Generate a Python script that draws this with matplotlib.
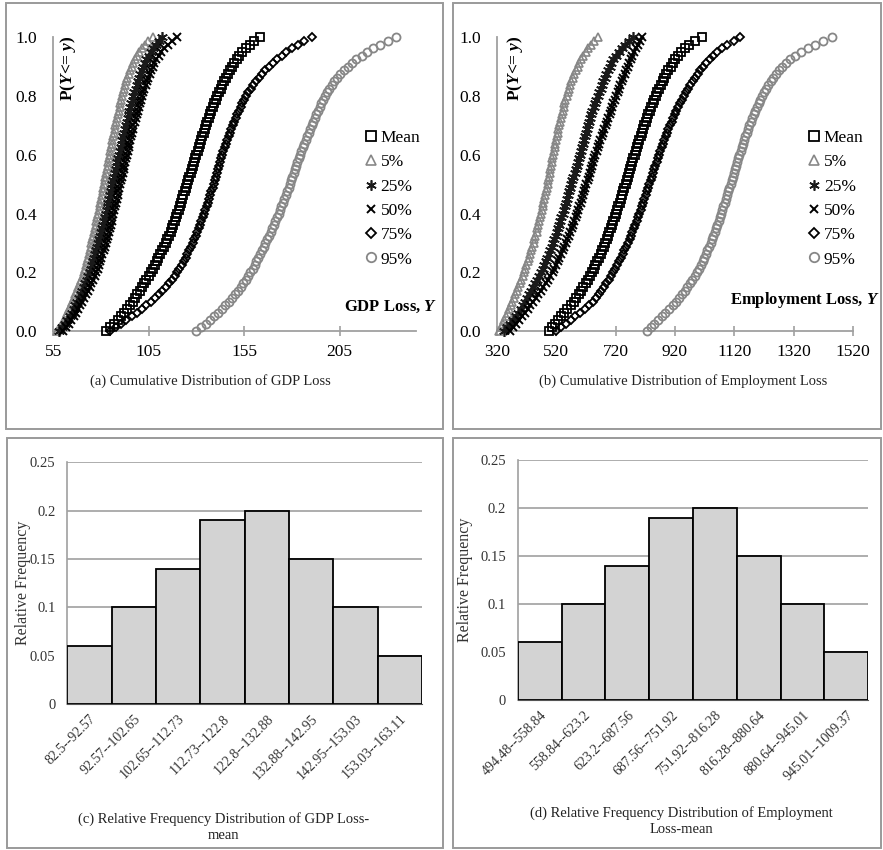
import matplotlib
matplotlib.use("Agg")
import matplotlib.pyplot as plt
from matplotlib.patches import Rectangle
from matplotlib.lines import Line2D
from matplotlib.ticker import FormatStrFormatter

plt.rcParams['font.family'] = ['Liberation Serif', 'DejaVu Serif']
plt.rcParams['mathtext.fontset'] = 'custom'
plt.rcParams['mathtext.rm'] = 'Liberation Serif:bold'
plt.rcParams['mathtext.it'] = 'Liberation Serif:italic:bold'

# cumulative probability levels shared by every CDF series
P_LEVELS = [0.0, 0.0125, 0.025, 0.0375, 0.05, 0.0625, 0.075, 0.0875, 0.1, 0.1125,
            0.125, 0.1375, 0.15, 0.1625, 0.175, 0.1875, 0.2, 0.2125, 0.225, 0.2375,
            0.25, 0.2625, 0.275, 0.2875, 0.3, 0.3125, 0.325, 0.3375, 0.35, 0.3625,
            0.375, 0.3875, 0.4, 0.4125, 0.425, 0.4375, 0.45, 0.4625, 0.475, 0.4875,
            0.5, 0.5125, 0.525, 0.5375, 0.55, 0.5625, 0.575, 0.5875, 0.6, 0.6125,
            0.625, 0.6375, 0.65, 0.6625, 0.675, 0.6875, 0.7, 0.7125, 0.725, 0.7375,
            0.75, 0.7625, 0.775, 0.7875, 0.8, 0.8125, 0.825, 0.8375, 0.85, 0.8625,
            0.875, 0.8875, 0.9, 0.9125, 0.925, 0.9375, 0.95, 0.9625, 0.975, 0.9875, 1.0]

# GDP loss at each probability level
gdp_mean = [82.5, 84.7, 86.8, 88.7, 90.5, 92.1, 93.6, 95.1, 96.5, 97.8,
            99.0, 100.3, 101.5, 102.7, 103.8, 104.9, 106.0, 107.1, 108.1, 109.1,
            110.1, 111.1, 112.1, 113.1, 114.0, 114.8, 115.6, 116.4, 117.1, 117.9,
            118.6, 119.3, 120.0, 120.7, 121.3, 122.0, 122.6, 123.2, 123.8, 124.4,
            125.0, 125.7, 126.3, 126.9, 127.5, 128.2, 128.8, 129.4, 130.0, 130.6,
            131.2, 131.9, 132.5, 133.1, 133.7, 134.4, 135.0, 135.7, 136.4, 137.1,
            137.8, 138.6, 139.4, 140.2, 141.0, 141.8, 142.7, 143.6, 144.5, 145.4,
            146.4, 147.4, 148.5, 149.7, 151.0, 152.4, 154.0, 155.8, 157.8, 160.2, 163.1]
gdp_p5 = [57.0, 58.3, 59.5, 60.5, 61.5, 62.4, 63.3, 64.2, 65.0, 65.8,
          66.6, 67.3, 68.0, 68.8, 69.5, 70.3, 71.0, 71.5, 72.0, 72.5,
          73.0, 73.5, 74.0, 74.5, 75.0, 75.5, 75.9, 76.4, 76.8, 77.2,
          77.6, 78.1, 78.5, 78.9, 79.3, 79.7, 80.0, 80.4, 80.8, 81.2,
          81.5, 81.9, 82.3, 82.7, 83.0, 83.4, 83.8, 84.2, 84.5, 84.9,
          85.2, 85.6, 86.0, 86.4, 86.7, 87.1, 87.5, 87.9, 88.3, 88.8,
          89.2, 89.7, 90.1, 90.6, 91.0, 91.5, 92.1, 92.6, 93.2, 93.8,
          94.5, 95.2, 96.0, 96.9, 97.8, 98.8, 100.0, 101.4, 103.0, 104.8, 107.0]
gdp_p25 = [58.0, 59.6, 61.0, 62.3, 63.5, 64.6, 65.6, 66.6, 67.5, 68.4,
           69.3, 70.2, 71.0, 71.8, 72.6, 73.3, 74.0, 74.6, 75.2, 75.8,
           76.4, 77.0, 77.5, 78.0, 78.5, 79.0, 79.5, 80.0, 80.5, 81.0,
           81.5, 82.0, 82.5, 83.0, 83.4, 83.9, 84.3, 84.8, 85.2, 85.6,
           86.0, 86.5, 86.9, 87.4, 87.8, 88.2, 88.6, 89.1, 89.5, 90.0,
           90.4, 90.8, 91.2, 91.7, 92.1, 92.6, 93.0, 93.5, 93.9, 94.4,
           94.9, 95.4, 95.9, 96.5, 97.0, 97.5, 98.1, 98.7, 99.3, 99.9,
           100.6, 101.3, 102.0, 102.9, 103.8, 104.9, 106.0, 107.2, 108.6, 110.2, 112.0]
gdp_p50 = [60.0, 61.6, 63.0, 64.5, 65.8, 66.9, 68.0, 69.0, 70.0, 71.0,
           72.0, 73.0, 74.0, 74.9, 75.8, 76.7, 77.5, 78.2, 78.8, 79.5,
           80.1, 80.7, 81.3, 81.9, 82.5, 83.0, 83.5, 84.0, 84.5, 85.0,
           85.5, 86.0, 86.5, 87.0, 87.4, 87.9, 88.3, 88.7, 89.1, 89.6,
           90.0, 90.5, 90.9, 91.4, 91.8, 92.2, 92.6, 93.1, 93.5, 94.0,
           94.4, 94.8, 95.2, 95.7, 96.1, 96.6, 97.0, 97.6, 98.1, 98.7,
           99.2, 99.8, 100.3, 100.9, 101.5, 102.1, 102.7, 103.4, 104.0, 104.7,
           105.4, 106.2, 107.0, 108.0, 109.0, 110.2, 111.5, 113.1, 115.0, 117.3, 120.0]
gdp_p75 = [84.5, 87.6, 90.5, 93.3, 96.0, 98.7, 101.3, 103.7, 106.0, 108.2,
           110.2, 112.2, 114.0, 115.7, 117.2, 118.7, 120.0, 121.1, 122.2, 123.3,
           124.3, 125.3, 126.2, 127.1, 128.0, 128.8, 129.6, 130.4, 131.2, 131.9,
           132.6, 133.3, 134.0, 134.7, 135.3, 135.9, 136.5, 137.2, 137.8, 138.4,
           139.0, 139.6, 140.1, 140.7, 141.2, 141.8, 142.3, 142.9, 143.5, 144.1,
           144.8, 145.5, 146.2, 146.9, 147.6, 148.3, 149.0, 149.8, 150.6, 151.4,
           152.3, 153.2, 154.1, 155.0, 156.0, 157.2, 158.4, 159.7, 161.0, 162.5,
           164.2, 166.0, 168.0, 170.1, 172.3, 174.6, 177.0, 179.9, 183.0, 186.5, 190.3]
gdp_p95 = [129.7, 132.3, 134.8, 137.1, 139.3, 141.3, 143.3, 145.2, 147.0, 148.6,
           150.2, 151.7, 153.2, 154.5, 155.8, 157.1, 158.3, 159.4, 160.4, 161.4,
           162.3, 163.3, 164.2, 165.2, 166.1, 167.0, 167.9, 168.8, 169.6, 170.5,
           171.3, 172.2, 173.0, 173.8, 174.5, 175.3, 176.0, 176.8, 177.5, 178.3,
           179.0, 179.7, 180.3, 181.0, 181.6, 182.3, 182.9, 183.6, 184.2, 185.0,
           185.7, 186.5, 187.2, 188.0, 188.7, 189.5, 190.3, 191.1, 191.9, 192.8,
           193.6, 194.5, 195.3, 196.2, 197.2, 198.3, 199.5, 200.8, 202.2, 203.7,
           205.4, 207.3, 209.3, 211.5, 213.8, 216.5, 219.5, 222.7, 226.2, 230.1, 234.4]

# employment loss at each probability level
emp_mean = [494.5, 506, 516, 526, 535, 546.5, 558, 569, 580, 588,
            596, 604, 612, 619.5, 626.5, 633, 640, 646, 652, 658,
            664, 669.5, 675, 680.5, 686, 690.5, 695, 699.5, 704, 708,
            712.5, 717, 721, 725, 729.5, 734, 738, 742, 746, 750,
            754, 758, 761.5, 765, 769, 773, 776.5, 780, 784, 788,
            792, 796, 800, 804, 808, 812, 816, 821, 825.5, 830,
            835, 840, 845, 850, 855, 861, 866.5, 872, 878, 884.5,
            891, 898, 905, 913, 921, 930, 940, 953, 968, 986, 1009.4]
emp_p5 = [328, 334, 340, 345.5, 351, 356.5, 362, 367, 372, 377,
          382, 387, 392, 397, 402, 407, 412, 416, 420, 424,
          428, 432, 436, 440, 444, 447, 450.5, 454, 457, 460,
          463, 466, 469, 472, 474.5, 477, 480, 483, 485.5, 488,
          491, 493.5, 496, 498, 500.5, 503, 505, 507.5, 510, 512.5,
          515, 517.5, 520, 522.5, 525, 527.5, 530, 533, 535.5, 538.5,
          541.5, 545, 548, 551.5, 555, 559, 563, 567, 571.5, 576,
          581, 586, 592, 598, 605, 612, 620, 628.5, 638, 649, 662]
emp_p25 = [345, 356, 366, 376, 385, 393, 401, 408, 415, 422,
           429, 436, 443, 450, 457, 463.5, 470, 475, 480, 485,
           490, 495, 500, 505, 510, 514, 518, 522, 526, 530,
           534, 538, 542, 545.5, 549, 552.5, 556, 560, 564, 567.5,
           571, 574.5, 578, 582, 586, 589.5, 593, 596.5, 600, 603,
           606.5, 610, 613, 616, 619.5, 623, 626, 630, 634, 638,
           642, 646.5, 651, 655.5, 660, 665, 669.5, 674, 679, 684,
           689, 694.5, 700, 706, 713, 721, 730, 740.5, 752, 765, 780]
emp_p50 = [365, 376, 386, 396, 405, 414.5, 424, 433.5, 443, 451.5,
           460, 468.5, 477, 485, 493, 500.5, 508, 514, 520, 525.5,
           531, 536.5, 542, 547.5, 553, 558, 562.5, 567, 572, 576.5,
           581, 585.5, 590, 594, 598, 602, 606, 610, 614, 618,
           622, 626, 629.5, 633, 637, 641, 644.5, 648, 652, 656,
           660.5, 665, 669, 673.5, 678, 682.5, 687, 691, 695.5, 700,
           704, 708.5, 713, 717.5, 722, 727, 731.5, 736, 741, 746,
           751, 756, 761, 766, 771, 776.5, 782, 788, 794, 801, 808]
emp_p75 = [520, 537, 553, 569, 585, 601, 616, 631, 645, 654,
           663, 672, 681, 689, 697, 704.5, 712, 718.5, 725, 731,
           737.5, 744, 750, 756, 762, 767, 771.5, 776, 781, 786,
           790.5, 795, 800, 804, 808.5, 813, 817, 821, 825.5, 830,
           834, 838, 842, 846, 850, 854, 858, 862, 866, 870.5,
           875, 879.5, 884, 889, 893.5, 898, 903, 908.5, 914, 919.5,
           925, 931, 937, 943.5, 950, 957, 964, 971.5, 979, 987.5,
           996, 1005, 1015, 1026, 1037, 1049.5, 1063, 1078.5, 1096, 1117, 1140]
emp_p95 = [826, 838.5, 851, 863, 875, 887.5, 900, 912.5, 925, 934,
           943, 952, 961, 969.5, 978, 986.5, 995, 1001, 1007, 1013,
           1018.5, 1024, 1029, 1034.5, 1040, 1044.5, 1049, 1053.5, 1058, 1062,
           1066.5, 1071, 1075, 1079, 1083, 1087, 1091, 1095, 1099, 1103,
           1107, 1111, 1114.5, 1118, 1122, 1126, 1129.5, 1133, 1137, 1141,
           1145, 1149, 1153, 1157, 1161.5, 1166, 1170, 1175, 1180, 1185,
           1190.5, 1196, 1201.5, 1207, 1213, 1220, 1227, 1234.5, 1242, 1250.5,
           1259, 1269, 1280, 1293, 1307, 1325, 1345, 1367, 1390, 1419, 1450]

series_labels = ['Mean', '5%', '25%', '50%', '75%', '95%']

# relative frequency of the mean
gdp_bins = ['82.5--92.57', '92.57--102.65', '102.65--112.73', '112.73--122.8',
            '122.8--132.88', '132.88--142.95', '142.95--153.03', '153.03--163.11']
gdp_freq = [0.06, 0.10, 0.14, 0.19, 0.20, 0.15, 0.10, 0.05]
emp_bins = ['494.48--558.84', '558.84--623.2', '623.2--687.56', '687.56--751.92',
            '751.92--816.28', '816.28--880.64', '880.64--945.01', '945.01--1009.37']
emp_freq = [0.06, 0.10, 0.14, 0.19, 0.20, 0.15, 0.10, 0.05]

GRAY = '#878787'
AXGRAY = '#a0a0a0'
# marker, colour, size, edge width
styles = [
    ('s', 'black', 5.6, 1.3),
    ('^', GRAY, 5.6, 1.2),
    ((6, 2, 0), '#1a1a1a', 7.8, 1.2),
    ('x', 'black', 6.4, 1.4),
    ('D', 'black', 4.2, 1.3),
    ('o', GRAY, 5.8, 1.3),
]
legend_sizes = [6.5, 6.5, 7.5, 6.0, 5.0, 6.8]

W, H = 883, 850
fig = plt.figure(figsize=(W / 100, H / 100), dpi=100)


def px_axes(x0, y0, x1, y1):
    # axes from pixel corners (top-left origin)
    return fig.add_axes([x0 / W, 1 - y1 / H, (x1 - x0) / W, (y1 - y0) / H])


def box(x0, y0, x1, y1):
    fig.patches.append(Rectangle((x0 / W, 1 - y1 / H), (x1 - x0) / W, (y1 - y0) / H,
                                 transform=fig.transFigure, fill=False,
                                 edgecolor='#9a9a9a', lw=1.4))


for b in [(6, 3, 443, 429), (453, 3, 881, 429), (7, 438, 443, 848), (453, 438, 881, 848)]:
    box(*b)


def cdf_panel(ax, data, xlim, xticks, xlabel, xlab_pos, ylab_x, leg_x):
    for vals, (mk, col, ms, mew) in zip(data, styles):
        ax.plot(vals, P_LEVELS, linestyle='none', marker=mk, mfc='none', mec=col,
                ms=ms, mew=mew, clip_on=False, zorder=3)
    ax.set_xlim(*xlim)
    ax.set_ylim(0, 1.0)
    ax.set_xticks(xticks)
    ax.set_yticks([0, 0.2, 0.4, 0.6, 0.8, 1.0])
    ax.yaxis.set_major_formatter(FormatStrFormatter('%.1f'))
    for s in ['top', 'right']:
        ax.spines[s].set_visible(False)
    for s in ['left', 'bottom']:
        ax.spines[s].set_color(AXGRAY)
        ax.spines[s].set_linewidth(1.3)
    ax.tick_params(axis='x', direction='inout', length=7, width=1.2, color=AXGRAY,
                   labelsize=12.5, pad=6)
    ax.tick_params(axis='y', length=0, labelsize=12.5, pad=11.5)
    ax.text(xlab_pos[0], xlab_pos[1], xlabel, transform=ax.transAxes, ha='right',
            va='center', fontsize=12, fontweight='bold')
    ax.text(ylab_x, 0.895, r'$\mathrm{P(}Y\!<\!\!\!=\,y\mathrm{)}$', transform=ax.transAxes,
            rotation=90, ha='center', va='center', fontsize=12.5)
    handles = [Line2D([], [], linestyle='none', marker=mk, mfc='none', mec=col,
                      ms=lms, mew=mew) for (mk, col, ms, mew), lms in zip(styles, legend_sizes)]
    ax.legend(handles, series_labels, loc='upper left', bbox_to_anchor=(leg_x, 0.685),
              frameon=False, fontsize=12.5, handlelength=0.6, handletextpad=0.25,
              labelspacing=0.47, borderpad=0, borderaxespad=0)


ax_a = px_axes(53.3, 37.3, 416, 331)
cdf_panel(ax_a, [gdp_mean, gdp_p5, gdp_p25, gdp_p50, gdp_p75, gdp_p95],
          (55, 245), [55, 105, 155, 205], 'GDP Loss, $Y$', (1.058, 0.082),
          0.04, 0.862)

ax_b = px_axes(496.7, 37.3, 853.3, 331)
cdf_panel(ax_b, [emp_mean, emp_p5, emp_p25, emp_p50, emp_p75, emp_p95],
          (320, 1520), [320, 520, 720, 920, 1120, 1320, 1520],
          'Employment Loss, $Y$', (1.075, 0.105), 0.051, 0.876)


def hist_panel(ax, bins, freq, ylab_x):
    ax.bar(range(len(freq)), freq, width=1.0, color='#d3d3d3', edgecolor='black',
           lw=1.3, zorder=3)
    ax.set_xlim(-0.5, len(freq) - 0.5)
    ax.set_ylim(0, 0.25)
    ax.set_yticks([0, 0.05, 0.1, 0.15, 0.2, 0.25])
    ax.set_yticklabels(['0', '0.05', '0.1', '0.15', '0.2', '0.25'])
    ax.set_xticks(range(len(freq)))
    ax.set_xticklabels(bins, rotation=45, ha='right', rotation_mode='anchor')
    ax.grid(axis='y', color=AXGRAY, lw=1.2, zorder=0)
    ax.set_axisbelow(True)
    for s in ['top', 'right']:
        ax.spines[s].set_visible(False)
    ax.spines['left'].set_color(AXGRAY)
    ax.spines['left'].set_linewidth(1.2)
    ax.spines['bottom'].set_color('#555555')
    ax.tick_params(axis='y', length=0, labelsize=10.5, pad=8.5, labelcolor='#333333')
    ax.tick_params(axis='x', length=0, labelsize=10, pad=6, labelcolor='#333333')
    ax.set_ylabel('Relative Frequency', fontsize=11.5, color='#333333')
    ax.yaxis.set_label_coords(ylab_x, 0.5)


ax_c = px_axes(67.3, 462.3, 422, 704)
hist_panel(ax_c, gdp_bins, gdp_freq, -0.102)

ax_d = px_axes(517.7, 460.3, 868.3, 700)
hist_panel(ax_d, emp_bins, emp_freq, -0.128)

fig.text(210.5 / W, 1 - 381 / H, '(a) Cumulative Distribution of GDP Loss',
         ha='center', va='center', fontsize=10.5, color='#222222')
fig.text(683 / W, 1 - 381 / H, '(b) Cumulative Distribution of Employment Loss',
         ha='center', va='center', fontsize=10.5, color='#222222')
fig.text(223.5 / W, 1 - 827 / H, '(c) Relative Frequency Distribution of GDP Loss-\nmean',
         ha='center', va='center', fontsize=10.5, linespacing=1.3, color='#222222')
fig.text(681 / W, 1 - 821 / H, '(d) Relative Frequency Distribution of Employment\nLoss-mean',
         ha='center', va='center', fontsize=10.5, linespacing=1.25, color='#222222')

fig.savefig('out.png', dpi=100)
